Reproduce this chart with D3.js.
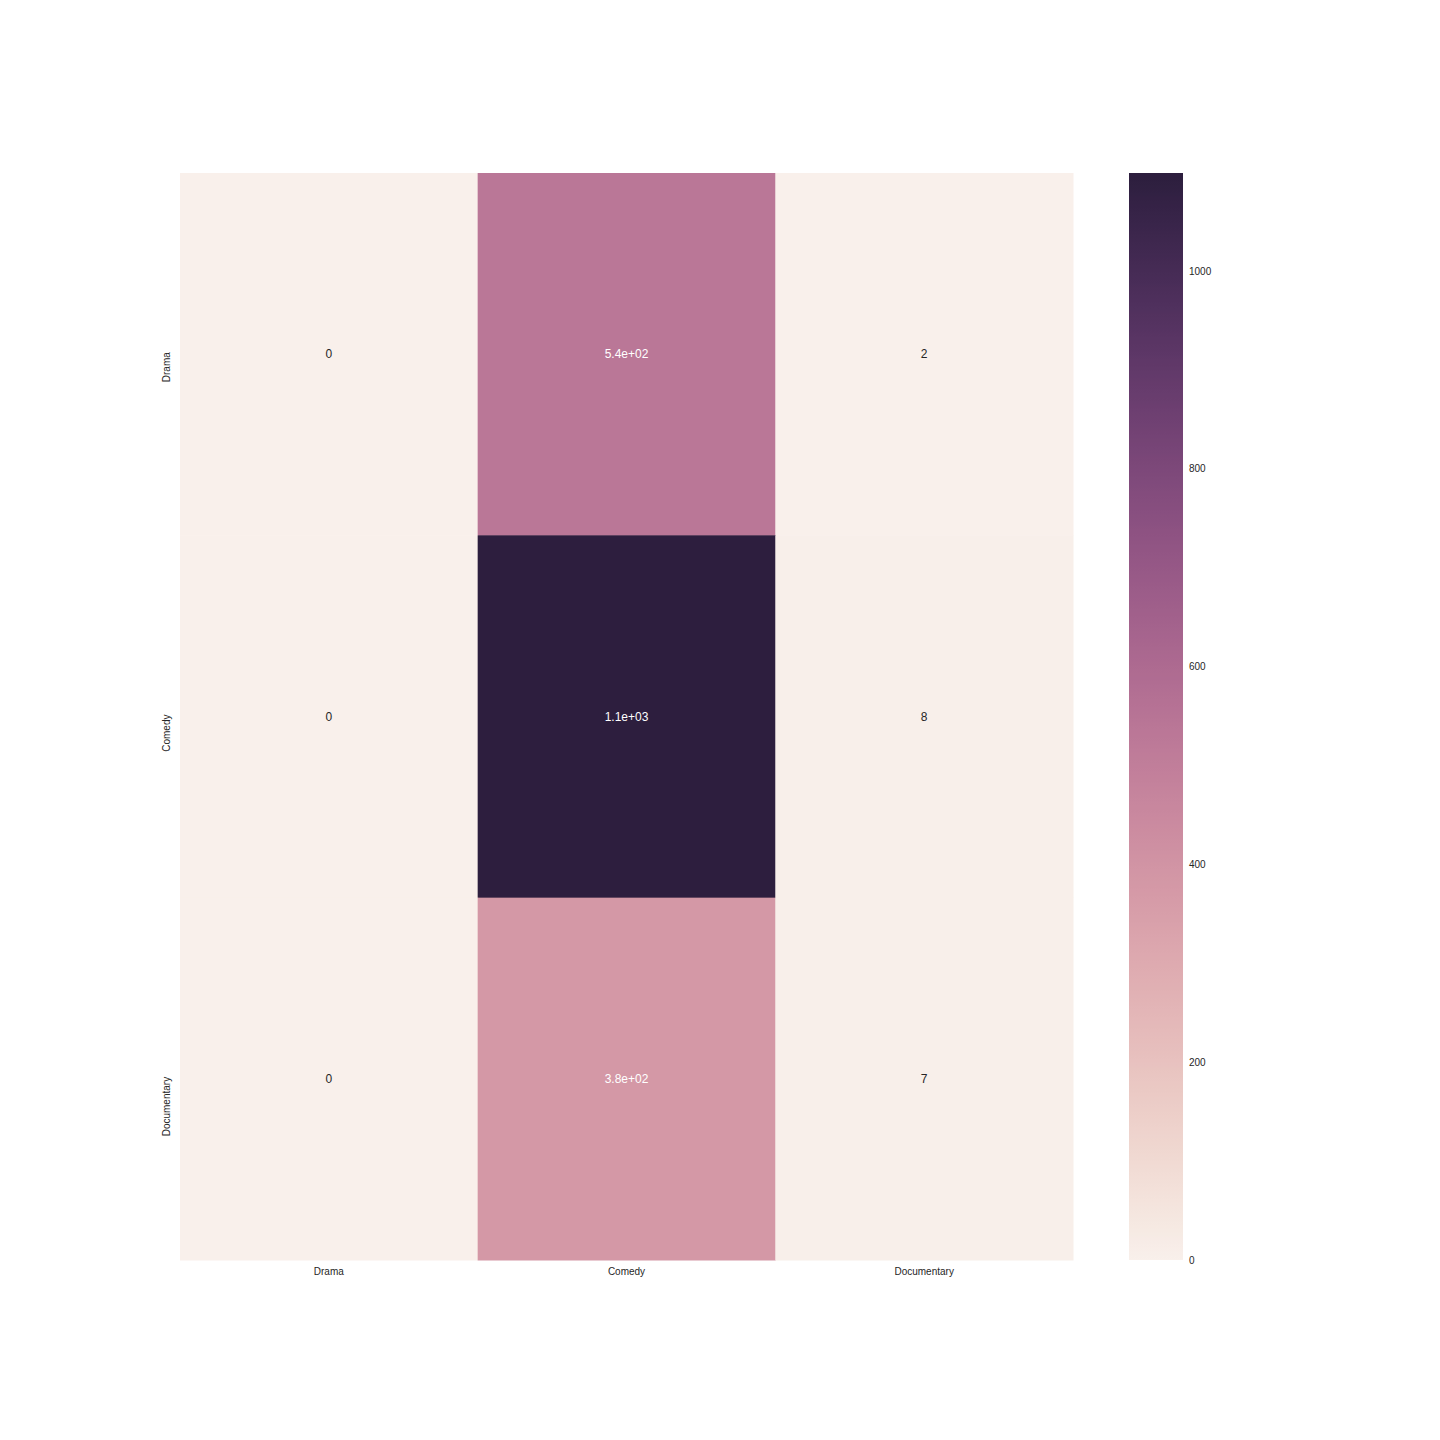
<!DOCTYPE html>
<html><head><meta charset="utf-8">
<script src="https://cdn.jsdelivr.net/npm/d3@7"></script>
<style>body{margin:0;background:#fff;} svg{display:block;font-family:"Liberation Sans",Arial,sans-serif;}</style>
</head><body>
<svg id="chart" width="1440" height="1440"></svg>
<script>
const rowLabels = ["Drama", "Comedy", "Documentary"];
const colLabels = ["Drama", "Comedy", "Documentary"];
const dramaRow = [0, 540, 2];
const comedyRow = [0, 1099, 8];
const documentaryRow = [0, 380, 7];
const matrix = [dramaRow, comedyRow, documentaryRow];
const colorbarTicks = [0, 200, 400, 600, 800, 1000];

(function () {
// seaborn cubehelix_palette(light=.95, as_cmap=True)
function cubehelix(x) {
  const gamma = 1, start = 0, rot = 0.4, hue = 0.8;
  const xg = Math.pow(x, gamma);
  const a = hue * xg * (1 - xg) / 2;
  const phi = 2 * Math.PI * (start / 3 + rot * x);
  const f = (p0, p1) => Math.max(0, Math.min(1, xg + a * (p0 * Math.cos(phi) + p1 * Math.sin(phi))));
  return [f(-0.14861, 1.78277), f(-0.29227, -0.90649), f(1.97294, 0.0)];
}
const light = 0.95, dark = 0.15;
function cmap(t) {
  t = Math.max(0, Math.min(1, t));
  const i = Math.min(255, Math.floor(t * 256));
  const xx = light + (dark - light) * (i / 255);
  const c = cubehelix(xx);
  return { rgb: c, css: d3.rgb(c[0] * 255, c[1] * 255, c[2] * 255).formatHex() };
}
function lum(c) {
  const l = c.map(v => v <= 0.03928 ? v / 12.92 : Math.pow((v + 0.055) / 1.055, 2.4));
  return 0.2126 * l[0] + 0.7152 * l[1] + 0.0722 * l[2];
}
function fmt2g(v) {
  if (v === 0) return "0";
  const e = Math.floor(Math.log10(Math.abs(v)));
  if (e < -4 || e >= 2) {
    const s = d3.format(".1e")(v);
    const m = s.split("e");
    const exp = parseInt(m[1], 10);
    const sign = exp < 0 ? "-" : "+";
    const ad = Math.abs(exp);
    return m[0] + "e" + sign + (ad < 10 ? "0" + ad : ad);
  }
  return String(+v.toPrecision(2));
}

const vmin = 0, vmax = d3.max(matrix.flat());
const svg = d3.select("#chart");
const pLeft = 180, pRight = 1073, pTop = 173, pBottom = 1260;
const x = d3.scaleBand().domain(colLabels.map((d, i) => i)).range([pLeft, pRight]).padding(0);
const y = d3.scaleBand().domain(rowLabels.map((d, i) => i)).range([pTop, pBottom]).padding(0);
const norm = d3.scaleLinear().domain([vmin, vmax]).range([0, 1]);

const cells = [];
matrix.forEach((row, r) => row.forEach((v, c) => cells.push({ r, c, v })));

svg.append("g").selectAll("rect").data(cells).join("rect")
  .attr("x", d => x(d.c)).attr("y", d => y(d.r))
  .attr("width", x.bandwidth() + 0.5).attr("height", y.bandwidth() + 0.5)
  .attr("fill", d => cmap(norm(d.v)).css);

svg.append("g").selectAll("text").data(cells).join("text")
  .attr("x", d => x(d.c) + x.bandwidth() / 2)
  .attr("y", d => y(d.r) + y.bandwidth() / 2)
  .attr("text-anchor", "middle").attr("dominant-baseline", "central")
  .attr("font-size", 12)
  .attr("fill", d => lum(cmap(norm(d.v)).rgb) > 0.408 ? "#262626" : "#ffffff")
  .text(d => fmt2g(d.v));

svg.append("g").selectAll("text").data(colLabels).join("text")
  .attr("x", (d, i) => x(i) + x.bandwidth() / 2)
  .attr("y", pBottom + 15)
  .attr("text-anchor", "middle").attr("font-size", 10).attr("fill", "#262626")
  .text(d => d);

svg.append("g").selectAll("text").data(rowLabels).join("text")
  .attr("transform", (d, i) => `translate(${pLeft - 10},${y(i) + y.bandwidth() / 2 - 2}) rotate(-90)`)
  .attr("text-anchor", "end").attr("font-size", 10).attr("fill", "#262626")
  .text(d => d);

const cbX = 1129, cbW = 54;
const cbScale = d3.scaleLinear().domain([vmin, vmax]).range([pBottom, pTop]);
const defs = svg.append("defs");
const grad = defs.append("linearGradient").attr("id", "cbgrad")
  .attr("x1", 0).attr("y1", 1).attr("x2", 0).attr("y2", 0);
d3.range(0, 257).forEach(i => {
  const t = i / 256;
  grad.append("stop").attr("offset", t).attr("stop-color", cmap(Math.min(t, 0.9999)).css);
});
svg.append("rect").attr("x", cbX).attr("y", pTop).attr("width", cbW).attr("height", pBottom - pTop)
  .attr("fill", "url(#cbgrad)");
const cbAxis = d3.axisRight(cbScale).tickValues(colorbarTicks).tickSize(0).tickPadding(6).tickFormat(d3.format("d"));
const ga = svg.append("g").attr("transform", `translate(${cbX + cbW},0)`).call(cbAxis);
ga.select(".domain").remove();
ga.selectAll("text").attr("font-size", 10).attr("fill", "#262626").attr("font-family", "'Liberation Sans',Arial,sans-serif");
})();
</script>
</body></html>
